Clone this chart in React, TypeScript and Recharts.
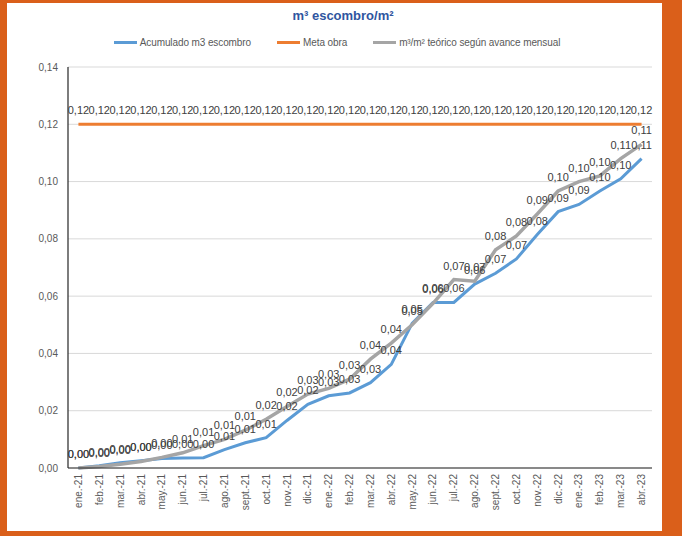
import React from 'react';
import { LineChart, Line, XAxis, YAxis, CartesianGrid, LabelList, Legend } from 'recharts';

const categories = [
  'ene.-21', 'feb.-21', 'mar.-21', 'abr.-21', 'may.-21', 'jun.-21', 'jul.-21', 'ago.-21', 'sept.-21', 'oct.-21', 'nov.-21', 'dic.-21',
  'ene.-22', 'feb.-22', 'mar.-22', 'abr.-22', 'may.-22', 'jun.-22', 'jul.-22', 'ago.-22', 'sept.-22', 'oct.-22', 'nov.-22', 'dic.-22',
  'ene.-23', 'feb.-23', 'mar.-23', 'abr.-23',
];

const acumulado = [
  0.0, 0.0008, 0.0018, 0.0025, 0.0033, 0.0035, 0.0036, 0.0064, 0.0088, 0.0106, 0.0166, 0.0222,
  0.0252, 0.0262, 0.0298, 0.0362, 0.0505, 0.0578, 0.0578, 0.0642, 0.068, 0.073, 0.0815, 0.0895,
  0.092, 0.0967, 0.101, 0.108,
];

const metaObra = [
  0.12, 0.12, 0.12, 0.12, 0.12, 0.12, 0.12, 0.12, 0.12, 0.12, 0.12, 0.12,
  0.12, 0.12, 0.12, 0.12, 0.12, 0.12, 0.12, 0.12, 0.12, 0.12, 0.12, 0.12,
  0.12, 0.12, 0.12, 0.12,
];

const teorico = [
  0.0, 0.0005, 0.0013, 0.0023, 0.0037, 0.0053, 0.0078, 0.01, 0.0132, 0.017, 0.0215, 0.0258,
  0.0278, 0.031, 0.038, 0.0436, 0.05, 0.0575, 0.0658, 0.0652, 0.0762, 0.081, 0.0887, 0.0967,
  0.1, 0.102, 0.108, 0.113,
];

const yTicks = [0, 0.02, 0.04, 0.06, 0.08, 0.1, 0.12, 0.14];

const seriesNames = {
  acumulado: 'Acumulado m3 escombro',
  meta: 'Meta obra',
  teorico: 'm³/m² teórico según avance mensual',
};

const COLORS = {
  acumulado: '#5B9BD5',
  meta: '#ED7D31',
  teorico: '#A5A5A5',
};

const data = categories.map((c, i) => ({
  cat: c,
  acumulado: acumulado[i],
  meta: metaObra[i],
  teorico: teorico[i],
}));

const FONT = '"Liberation Sans", Arial, sans-serif';
const fmt = (v: any) => Number(v).toFixed(2).replace('.', ',');

const XTick = (props: any) => {
  const { x, y, payload } = props;
  return (
    <text
      x={x}
      y={y}
      transform={`rotate(-90, ${x}, ${y})`}
      textAnchor="end"
      dominantBaseline="central"
      fontSize={10}
      fontFamily={FONT}
      fill="#595959"
    >
      {payload.value}
    </text>
  );
};

const LegendContent = () => {
  const items = [
    { key: 'acumulado', label: seriesNames.acumulado, color: COLORS.acumulado },
    { key: 'meta', label: seriesNames.meta, color: COLORS.meta },
    { key: 'teorico', label: seriesNames.teorico, color: COLORS.teorico },
  ];
  return (
    <div style={{ display: 'flex', justifyContent: 'center', gap: 26, fontFamily: FONT, fontSize: 10, color: '#595959', paddingRight: 8, letterSpacing: -0.1 }}>
      {items.map((it) => (
        <div key={it.key} style={{ display: 'flex', alignItems: 'center' }}>
          <span style={{ display: 'inline-block', width: 23, height: 3, background: it.color, marginRight: 3 }} />
          <span>{it.label}</span>
        </div>
      ))}
    </div>
  );
};

export default function App() {
  return (
    <div style={{ position: 'absolute', left: 0, top: 0, width: 682, height: 536, background: '#DA5F1A' }}>
      <div style={{ position: 'absolute', left: 7, top: 3, width: 655, height: 528, background: '#ffffff' }} />
      <div
        style={{
          position: 'absolute',
          left: 0,
          top: 8,
          width: 682,
          textAlign: 'center',
          fontFamily: FONT,
          fontWeight: 'bold',
          fontSize: 13,
          color: '#2F55A0',
          paddingLeft: 2,
        }}
      >
        m³ escombro/m²
      </div>
      <div style={{ position: 'absolute', left: 0, top: 0 }}>
        <LineChart width={682} height={536} data={data} margin={{ top: 67, right: 30, bottom: 8, left: 0 }}>
          <CartesianGrid horizontal vertical={false} stroke="#D9D9D9" />
          <XAxis
            dataKey="cat"
            interval={0}
            padding={{ left: 10.43, right: 10.43 }}
            height={60}
            tick={<XTick />}
            tickLine={false}
            tickSize={0}
            tickMargin={6}
            axisLine={{ stroke: '#262626', strokeWidth: 1.2 }}
          />
          <YAxis
            width={68}
            domain={[0, 0.14]}
            ticks={yTicks}
            tickFormatter={fmt}
            tickLine={false}
            tickSize={0}
            tickMargin={10}
            axisLine={{ stroke: '#262626', strokeWidth: 1.2 }}
            tick={{ fontSize: 10, fontFamily: FONT, fill: '#595959' }}
            interval={0}
          />
          <Legend verticalAlign="middle" align="center" layout="horizontal" content={<LegendContent />} wrapperStyle={{ top: 37, left: 0, width: 682 }} />
          <Line type="linear" dataKey="acumulado" name={seriesNames.acumulado} stroke={COLORS.acumulado} strokeWidth={3} dot={false} isAnimationActive={false}>
            <LabelList dataKey="acumulado" position="top" offset={10} formatter={fmt} style={{ fontSize: 11, fontFamily: FONT, fill: '#404040' }} />
          </Line>
          <Line type="linear" dataKey="meta" name={seriesNames.meta} stroke={COLORS.meta} strokeWidth={3} dot={false} isAnimationActive={false}>
            <LabelList dataKey="meta" position="top" offset={10} formatter={fmt} style={{ fontSize: 11, fontFamily: FONT, fill: '#404040' }} />
          </Line>
          <Line type="linear" dataKey="teorico" name={seriesNames.teorico} stroke={COLORS.teorico} strokeWidth={3.5} dot={false} isAnimationActive={false}>
            <LabelList dataKey="teorico" position="top" offset={10} formatter={fmt} style={{ fontSize: 11, fontFamily: FONT, fill: '#404040' }} />
          </Line>
        </LineChart>
      </div>
    </div>
  );
}
